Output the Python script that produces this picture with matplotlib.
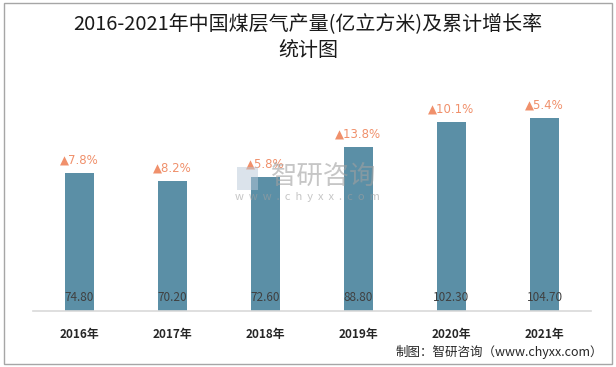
import matplotlib
matplotlib.use("Agg")
import matplotlib.pyplot as plt
from matplotlib.patches import Rectangle

plt.rcParams['font.family'] = ['Noto Sans CJK SC', 'DejaVu Sans']

years = ["2016年", "2017年", "2018年", "2019年", "2020年", "2021年"]
output = [74.80, 70.20, 72.60, 88.80, 102.30, 104.70]
growth = ["7.8%", "8.2%", "5.8%", "13.8%", "10.1%", "5.4%"]

W, H = 616, 367
fig = plt.figure(figsize=(W / 100, H / 100), dpi=100)

# axes placement in pixels
left, right, bottom, top = 33, 591, 311, 80
ax = fig.add_axes([left / W, 1 - bottom / H, (right - left) / W, (bottom - top) / H])

x = list(range(len(years)))
bar_color = "#5B8FA6"
ax.bar(x, output, width=0.31, color=bar_color, zorder=2)
ax.set_xlim(-0.5, len(years) - 0.5)
ax.set_ylim(0, 125)

for xi, v, g in zip(x, output, growth):
    ax.text(xi, 7.5, f"{v:.2f}", ha="center", va="center", fontsize=8.5,
            color="#404040", zorder=4)
    ax.text(xi, v + 7, "▲" + g, ha="center", va="center", fontsize=8.5,
            color="#F0906B", zorder=4, family=['DejaVu Sans'])

ax.set_yticks([])
ax.set_xticks(x)
ax.set_xticklabels(years, fontsize=8.5, fontweight="bold", color="#262626")
ax.tick_params(axis="x", length=0, pad=12)
for s in ["top", "right", "left"]:
    ax.spines[s].set_visible(False)
ax.spines["bottom"].set_color("#D9D9D9")
ax.spines["bottom"].set_linewidth(1.2)

# title
fig.text(308 / W, 1 - 25 / H, "2016-2021年中国煤层气产量(亿立方米)及累计增长率",
         ha="center", va="center", fontsize=14.4, color="#1a1a1a")
fig.text(308 / W, 1 - 51 / H, "统计图", ha="center", va="center", fontsize=14.4,
         color="#1a1a1a")

# watermark
fig.text(324 / W, 1 - 176 / H, "智研咨询", ha="center", va="center",
         fontsize=19, color="#A0A0A0", alpha=0.6, zorder=10)
fig.text(307 / W, 1 - 197 / H, "w  w  w  .  c  h  y  x  x  .  c  o  m",
         ha="center", va="center", fontsize=8, color="#A0A0A0", alpha=0.6,
         zorder=10)
fig.patches.append(Rectangle((237 / W, 1 - 190 / H), 21 / W, 23 / H,
                             transform=fig.transFigure, facecolor="#B8C8D8",
                             alpha=0.5, edgecolor="none", zorder=10))

# source
fig.text(603 / W, 1 - 352 / H, "制图：智研咨询（www.chyxx.com）", ha="right",
         va="center", fontsize=9, color="#262626")

# border
fig.patches.append(Rectangle((4 / W, 3 / H), 608 / W, 361 / H,
                             transform=fig.transFigure, fill=False,
                             edgecolor="#A6A6A6", linewidth=1))

fig.savefig("out.png", dpi=100)
